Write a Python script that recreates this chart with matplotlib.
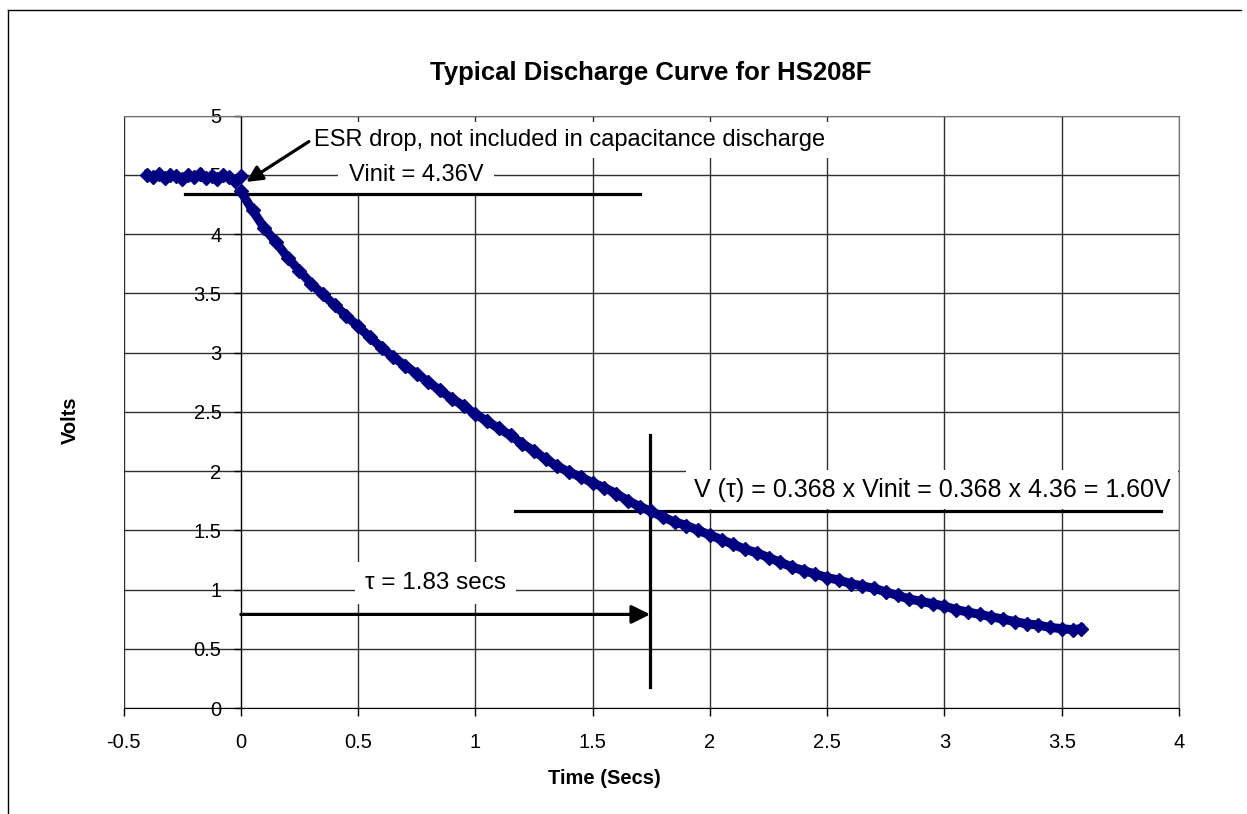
import matplotlib
matplotlib.use("Agg")
import matplotlib.pyplot as plt
from matplotlib.lines import Line2D
from matplotlib.ticker import FuncFormatter, MultipleLocator

plt.rcParams['font.family'] = ['Liberation Sans', 'DejaVu Sans']

# ---- data ----
# resting voltage before the discharge starts
pre_t = [-0.40, -0.375, -0.35, -0.325, -0.30, -0.275, -0.25, -0.225, -0.20,
         -0.175, -0.15, -0.125, -0.10, -0.075, -0.05, -0.025, 0.0]
pre_v = [4.50, 4.48, 4.51, 4.47, 4.50, 4.49, 4.46, 4.50, 4.48,
         4.51, 4.47, 4.49, 4.46, 4.50, 4.48, 4.45, 4.49]

# discharge curve
dis_t = [0.00, 0.05, 0.10, 0.15, 0.20, 0.25, 0.30, 0.35, 0.40, 0.45,
         0.50, 0.55, 0.60, 0.65, 0.70, 0.75, 0.80, 0.85, 0.90, 0.95,
         1.00, 1.05, 1.10, 1.15, 1.20, 1.25, 1.30, 1.35, 1.40, 1.45,
         1.50, 1.55, 1.60, 1.65, 1.70, 1.75, 1.80, 1.85, 1.90, 1.95,
         2.00, 2.05, 2.10, 2.15, 2.20, 2.25, 2.30, 2.35, 2.40, 2.45,
         2.50, 2.55, 2.60, 2.65, 2.70, 2.75, 2.80, 2.85, 2.90, 2.95,
         3.00, 3.05, 3.10, 3.15, 3.20, 3.25, 3.30, 3.35, 3.40, 3.45,
         3.50, 3.55, 3.58]
dis_v = [4.36, 4.20, 4.05, 3.93, 3.80, 3.69, 3.58, 3.49, 3.40, 3.31,
         3.22, 3.13, 3.04, 2.96, 2.89, 2.82, 2.75, 2.68, 2.61, 2.55,
         2.48, 2.42, 2.36, 2.30, 2.23, 2.17, 2.10, 2.04, 1.99, 1.95,
         1.90, 1.86, 1.81, 1.75, 1.70, 1.66, 1.61, 1.57, 1.54, 1.50,
         1.46, 1.42, 1.38, 1.34, 1.31, 1.27, 1.23, 1.19, 1.16, 1.13,
         1.10, 1.08, 1.05, 1.03, 1.01, 0.98, 0.95, 0.92, 0.90, 0.88,
         0.86, 0.83, 0.81, 0.79, 0.77, 0.75, 0.73, 0.71, 0.70, 0.68,
         0.67, 0.66, 0.67]

v_init = 4.34          # drawn height of the Vinit line
v_tau = 1.66           # drawn height of the V(tau) line
t_tau = 1.745          # drawn position of the tau line

NAVY = '#000080'

fig = plt.figure(figsize=(12.47, 8.14), dpi=100)
ax = fig.add_axes([0.0991, 0.1302, 0.8464, 0.7279])

# chart area frame (top and left edges only visible)
fig.add_artist(Line2D([8 / 1247, 1241 / 1247], [1 - 10 / 814, 1 - 10 / 814],
                      color='black', lw=1))
fig.add_artist(Line2D([8 / 1247, 8 / 1247], [0, 1 - 10 / 814],
                      color='black', lw=1))

# curve
ax.plot(pre_t, pre_v, '-D', color=NAVY, lw=6, ms=7, mec=NAVY, zorder=5)
ax.plot(dis_t, dis_v, '-D', color=NAVY, lw=6.5, ms=7, mec=NAVY, zorder=5)

# axes styling (Excel look)
ax.set_xlim(-0.5, 4)
ax.set_ylim(0, 5)
ax.xaxis.set_major_locator(MultipleLocator(0.5))
ax.yaxis.set_major_locator(MultipleLocator(0.5))
fmt = FuncFormatter(lambda v, p: f"{v:g}")
ax.xaxis.set_major_formatter(fmt)
ax.yaxis.set_major_formatter(fmt)
ax.grid(True, color='#303030', lw=1)
ax.set_axisbelow(True)
ax.spines['left'].set_position(('data', 0))
ax.spines['left'].set_color('black')
ax.spines['bottom'].set_color('black')
ax.spines['top'].set_color('#707070')
ax.spines['right'].set_color('#707070')
ax.tick_params(axis='x', direction='out', length=6, width=1, pad=12, labelsize=14.5)
ax.tick_params(axis='y', direction='out', length=5, width=1, pad=9, labelsize=14.5)

# annotation lines
ax.plot([-0.237, 1.70], [v_init, v_init], color='black', lw=2.3, zorder=4)
ax.plot([1.168, 3.925], [v_tau, v_tau], color='black', lw=2.3, zorder=4)
ax.plot([t_tau, t_tau], [0.18, 2.30], color='black', lw=2.3, zorder=4)

ax.annotate('', xy=(t_tau, 0.79), xytext=(0.0, 0.79),
            arrowprops=dict(arrowstyle='-|>', lw=2.3, color='black',
                            mutation_scale=28, shrinkA=0, shrinkB=0), zorder=4)
ax.annotate('', xy=(0.023, 4.44), xytext=(0.29, 4.78),
            arrowprops=dict(arrowstyle='-|>', lw=2.3, color='black',
                            mutation_scale=24, shrinkA=0, shrinkB=0), zorder=4)

box = dict(boxstyle='square,pad=0.3', fc='white', ec='none')
ax.text(0.31, 4.79, 'ESR drop, not included in capacitance discharge',
        fontsize=17, ha='left', va='center', bbox=box, zorder=3)
ax.text(0.748, 4.50, 'Vinit = 4.36V', fontsize=17, ha='center', va='center',
        bbox=dict(boxstyle='square,pad=0.45', fc='white', ec='none'), zorder=3)
ax.text(1.93, 1.84, 'V (\u03c4) = 0.368 x Vinit = 0.368 x 4.36 = 1.60V',
        fontsize=18, ha='left', va='center',
        bbox=dict(boxstyle='square,pad=0.3', fc='white', ec='none'), zorder=3)
ax.text(0.529, 1.055, '\u03c4 = 1.83 secs', fontsize=17.5, ha='left', va='center',
        bbox=dict(boxstyle='square,pad=0.4', fc='white', ec='none'), zorder=3)

# titles
fig.text(651 / 1247, 1 - 73 / 814, 'Typical Discharge Curve for HS208F',
         fontsize=18.5, fontweight='bold', ha='center', va='center')
fig.text(70 / 1247, 1 - 420 / 814, 'Volts', fontsize=14.5, fontweight='bold',
         rotation=90, ha='center', va='center')
fig.text(604 / 1247, 1 - 778 / 814, 'Time (Secs)', fontsize=14.5,
         fontweight='bold', ha='center', va='center')

fig.savefig('out.png', dpi=100)
